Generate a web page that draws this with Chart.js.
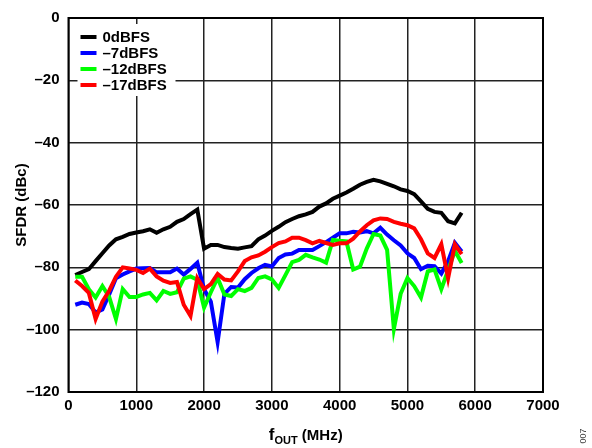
<!DOCTYPE html>
<html>
<head>
<meta charset="utf-8">
<script src="https://cdn.jsdelivr.net/npm/chart.js@4/dist/chart.umd.min.js"></script>
<style>
  html, body { margin: 0; padding: 0; background: #fff; }
  #wrap { width: 592px; height: 448px; position: relative; }
</style>
</head>
<body>
<div id="wrap"><canvas id="sfdrChart" width="592" height="448"></canvas></div>
<script>
// output frequency (MHz)
const freqMHz = [100, 200, 300, 400, 500, 600, 700, 800, 900, 1000,
  1100, 1200, 1300, 1400, 1500, 1600, 1700, 1800, 1900, 2000,
  2100, 2200, 2300, 2400, 2500, 2600, 2700, 2800, 2900, 3000,
  3100, 3200, 3300, 3400, 3500, 3600, 3700, 3800, 3900, 4000,
  4100, 4200, 4300, 4400, 4500, 4600, 4700, 4800, 4900, 5000,
  5100, 5200, 5300, 5400, 5500, 5600, 5700, 5800];

// SFDR (dBc) per input level
const sfdr0dBFS = [-82.5, -81.5, -80.6, -78, -75.5, -73, -71, -70.2, -69.3, -68.8,
  -68.4, -67.8, -68.9, -67.8, -67, -65.4, -64.5, -62.9, -61.5, -74,
  -72.8, -72.8, -73.5, -73.8, -74, -73.6, -73.2, -71, -69.8, -68.3,
  -67, -65.5, -64.5, -63.6, -63, -62.2, -60.5, -59.5, -58, -57,
  -56, -54.8, -53.5, -52.6, -51.9, -52.4, -53.2, -54, -55, -55.5,
  -56.5, -58.8, -61.2, -62.2, -62.5, -65.2, -65.9, -62.5];
const sfdrM7dBFS = [-92, -91.3, -91.8, -94.5, -93.5, -88.7, -83.5, -82.3, -81.3, -80.4,
  -80.3, -80.2, -81.6, -81.6, -81.6, -80.4, -82.3, -80.5, -78.5, -87,
  -91, -104, -88.5, -86.3, -86.5, -83.8, -81.8, -80.3, -79.2, -79.7,
  -77, -75.9, -75.6, -74.4, -74.4, -74.4, -73.2, -71.9, -70.5, -69.1,
  -69.1, -68.6, -68.8, -68.4, -69.1, -67.3, -69.5, -71.3, -73, -75.5,
  -77, -80.6, -79.5, -79.6, -82, -78, -72.1, -74.9];
const sfdrM12dBFS = [-83, -83, -87, -89.7, -86, -89.5, -96.6, -87, -89.5, -89.5,
  -88.7, -88.2, -90.6, -87.6, -88.5, -88, -83.6, -82.9, -84, -92.9,
  -88, -83.4, -88.7, -89.2, -87, -87.6, -86.6, -83.4, -82.9, -83.9,
  -86.6, -82.5, -78.3, -77.6, -76, -76.8, -77.5, -78.5, -71.2, -71.5,
  -71.7, -80.7, -79.8, -74, -69.3, -69.8, -74.4, -99.8, -88.5, -83.4,
  -86, -89.7, -81.3, -80.7, -87, -80.9, -74.7, -78.6];
const sfdrM17dBFS = [-84.2, -86, -88.2, -96.6, -91, -87.5, -83, -80, -80.4, -80.8,
  -81.8, -80.4, -82.9, -84.3, -85, -84.7, -92, -95.6, -83.5, -87,
  -85.4, -82.1, -83.9, -84.2, -81.3, -78, -76.8, -76.2, -75, -73.5,
  -72.2, -71.7, -70.5, -70.5, -71.3, -72.3, -71.5, -72.2, -72.8, -72.3,
  -72.3, -70.8, -68.5, -66.5, -64.9, -64.3, -64.5, -65.4, -66, -66.5,
  -67.5, -71, -75.5, -77, -72.6, -83.5, -72.6, -75.8];

const seriesLabels = ['0dBFS', '\u20137dBFS', '\u201312dBFS', '\u201317dBFS'];
const seriesColors = ['#000000', '#0000ff', '#00ff00', '#ff0000'];
const seriesValues = [sfdr0dBFS, sfdrM7dBFS, sfdrM12dBFS, sfdrM17dBFS];

const FONT = '"Liberation Sans", Arial, sans-serif';

// frame, legend box and the extra texts
const decorPlugin = {
  id: 'decor',
  beforeDatasetsDraw(chart) {
    const { ctx, chartArea: a } = chart;
    ctx.save();
    ctx.strokeStyle = '#000';
    ctx.lineWidth = 2;
    ctx.strokeRect(a.left, a.top, a.right - a.left, a.bottom - a.top);

    // legend in the top left corner of the plot
    ctx.fillStyle = '#fff';
    ctx.fillRect(a.left + 9, a.top + 6, 98, 72);
    ctx.font = 'bold 15px ' + FONT;
    ctx.textBaseline = 'middle';
    chart.data.datasets.forEach(function(ds, i) {
      const y = a.top + 19 + i * 16;
      ctx.strokeStyle = ds.borderColor;
      ctx.lineWidth = 4;
      ctx.beginPath();
      ctx.moveTo(a.left + 12, y);
      ctx.lineTo(a.left + 28, y);
      ctx.stroke();
      ctx.fillStyle = '#000';
      ctx.fillText(ds.label, a.left + 34, y + 1);
    });
    ctx.restore();
  },
  afterDraw(chart) {
    const { ctx, chartArea: a } = chart;
    ctx.save();
    ctx.fillStyle = '#000';
    // y title
    ctx.font = 'bold 15px ' + FONT;
    ctx.textAlign = 'center';
    ctx.textBaseline = 'middle';
    ctx.translate(22, (a.top + a.bottom) / 2);
    ctx.rotate(-Math.PI / 2);
    ctx.fillText('SFDR (dBc)', 0, 0);
    ctx.restore();

    // x title with subscript
    ctx.save();
    ctx.fillStyle = '#000';
    ctx.textBaseline = 'alphabetic';
    const parts = [
      { t: 'f', f: 'bold 17px ' + FONT, dy: 0 },
      { t: 'OUT', f: 'bold 11px ' + FONT, dy: 4 },
      { t: ' (MHz)', f: 'bold 15px ' + FONT, dy: 0 }
    ];
    let w = 0;
    parts.forEach(function(p) { ctx.font = p.f; p.w = ctx.measureText(p.t).width; w += p.w; });
    let x = (a.left + a.right) / 2 - w / 2;
    parts.forEach(function(p) {
      ctx.font = p.f;
      ctx.fillText(p.t, x, 440 + p.dy);
      x += p.w;
    });

    // figure id
    ctx.fillStyle = '#444';
    ctx.font = '9px ' + FONT;
    ctx.textAlign = 'center';
    ctx.textBaseline = 'middle';
    ctx.translate(584, 436);
    ctx.rotate(-Math.PI / 2);
    ctx.fillText('007', 0, 0);
    ctx.restore();
  }
};

const ctx = document.getElementById('sfdrChart').getContext('2d');
const sfdrChart = new Chart(ctx, {
  type: 'line',
  data: {
    datasets: seriesValues.map(function(vals, i) {
      return {
        label: seriesLabels[i],
        data: freqMHz.map(function(f, j) { return { x: f, y: vals[j] }; }),
        borderColor: seriesColors[i],
        backgroundColor: seriesColors[i],
        borderWidth: 4,
        pointRadius: 0,
        tension: 0,
        fill: false,
        order: 3 - i
      };
    })
  },
  options: {
    responsive: false,
    animation: false,
    layout: { padding: { left: 0, right: 49, top: 14, bottom: 0 } },
    plugins: {
      legend: { display: false },
      tooltip: { enabled: false }
    },
    scales: {
      x: {
        type: 'linear',
        min: 0,
        max: 7000,
        ticks: {
          stepSize: 1000,
          color: '#000',
          padding: 5,
          maxRotation: 0,
          font: { family: FONT, size: 15, weight: 'bold' },
          callback: function(v) { return String(v); }
        },
        grid: { color: '#222', lineWidth: 1.5, drawTicks: false },
        border: { display: false },
        afterFit: function(scale) { scale.height = 56; }
      },
      y: {
        min: -120,
        max: 0,
        ticks: {
          stepSize: 20,
          color: '#000',
          padding: 9,
          font: { family: FONT, size: 15, weight: 'bold' },
          callback: function(v) { return v < 0 ? '\u2013' + Math.abs(v) : String(v); }
        },
        grid: { color: '#222', lineWidth: 1.5, drawTicks: false },
        border: { display: false },
        afterFit: function(scale) { scale.width = 68.5; }
      }
    }
  },
  plugins: [decorPlugin]
});
</script>
</body>
</html>
